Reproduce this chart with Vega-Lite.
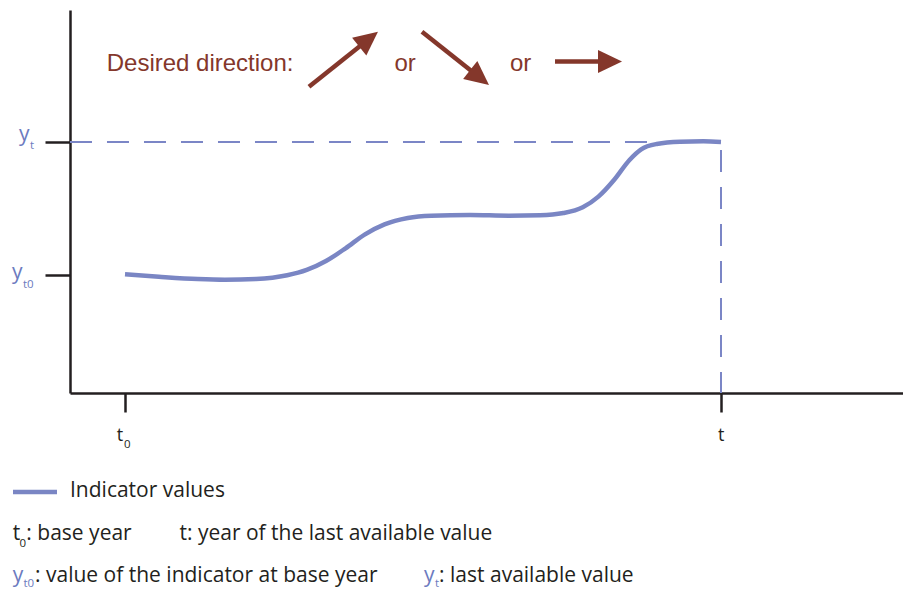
{
  "$schema": "https://vega.github.io/schema/vega-lite/v6.json",
  "width": 833,
  "height": 383,
  "autosize": {"type": "none"},
  "padding": {"left": 70, "top": 10, "right": 0, "bottom": 198},
  "background": "white",
  "config": {"view": {"stroke": null}},
  "datasets": {
    "curve": [
      {"x": 0, "y": 0.05}, {"x": 0.569, "y": -0.13}, {"x": 1.221, "y": -0.3}, {"x": 1.678, "y": -0.35},
      {"x": 2.198, "y": -0.3}, {"x": 2.721, "y": -0.02}, {"x": 3.049, "y": 0.38}, {"x": 3.372, "y": 1.05},
      {"x": 3.701, "y": 2.01}, {"x": 4.027, "y": 3.06}, {"x": 4.354, "y": 3.81}, {"x": 4.745, "y": 4.29},
      {"x": 5.138, "y": 4.46}, {"x": 5.789, "y": 4.51}, {"x": 6.441, "y": 4.46}, {"x": 6.963, "y": 4.49},
      {"x": 7.356, "y": 4.66}, {"x": 7.681, "y": 5.09}, {"x": 7.943, "y": 5.89}, {"x": 8.205, "y": 7.14},
      {"x": 8.465, "y": 8.65}, {"x": 8.661, "y": 9.45}, {"x": 8.921, "y": 9.85}, {"x": 9.312, "y": 10.02},
      {"x": 9.705, "y": 10.05}, {"x": 10, "y": 10.0}
    ],
    "hguide": [{"x": -0.923, "y": 10, "x2": 10, "y2": 10}],
    "vguide": [{"x": 10, "y": 10, "x2": 10, "y2": -8.872}],
    "shafts": [
      {"x": 3.087, "y": 14.158, "x2": 4.087, "y2": 17.729},
      {"x": 4.983, "y": 18.293, "x2": 5.95, "y2": 14.85},
      {"x": 7.215, "y": 16.053, "x2": 8.138, "y2": 16.053}
    ],
    "heads": [
      {"x": 4.087, "y": 17.729, "angle": 51.4},
      {"x": 5.95, "y": 14.85, "angle": 128.5},
      {"x": 8.138, "y": 16.053, "angle": 90}
    ],
    "direction": [
      {"text": "Desired direction:", "x": -0.307, "y": 15.338},
      {"text": "or", "x": 4.52, "y": 15.338},
      {"text": "or", "x": 6.46, "y": 15.338}
    ],
    "ylabels": [
      {"text": "y", "x": -1.779, "y": 10.105},
      {"text": "y", "x": -1.896, "y": -0.271}
    ],
    "xlabels": [
      {"text": "t", "x": -0.139, "y": -12.481},
      {"text": "t", "x": 9.95, "y": -12.481}
    ],
    "legendline": [{"x": -1.879, "y": -16.316, "x2": -1.141, "y2": -16.316}],
    "notes": [
      {"text": "Indicator values", "kind": "note", "x": -0.923, "y": -16.692},
      {"text": "t", "kind": "note", "x": -1.884, "y": -19.925},
      {"text": ": base year", "kind": "note", "x": -1.655, "y": -19.925},
      {"text": "t: year of the last available value", "kind": "note", "x": 0.914, "y": -19.925},
      {"text": "y", "kind": "symbol", "x": -1.884, "y": -23.083},
      {"text": ": value of the indicator at base year", "kind": "note", "x": -1.51, "y": -23.083},
      {"text": "y", "kind": "symbol", "x": 5.017, "y": -23.083},
      {"text": ": last available value", "kind": "note", "x": 5.27, "y": -23.083}
    ],
    "subs": [
      {"text": "t", "kind": "symbol", "x": -1.594, "y": 9.474},
      {"text": "t0", "kind": "symbol", "x": -1.711, "y": -0.977},
      {"text": "0", "kind": "note", "x": -0.017, "y": -13.008},
      {"text": "0", "kind": "note", "x": -1.77, "y": -20.451},
      {"text": "t0", "kind": "symbol", "x": -1.704, "y": -23.459},
      {"text": "t", "kind": "symbol", "x": 5.2, "y": -23.459}
    ]
  },
  "encoding": {
    "x": {
      "field": "x", "type": "quantitative",
      "scale": {"domain": [-0.9228, 13.0537], "nice": false, "zero": false},
      "axis": {"values": [0, 10], "labels": false, "title": null, "grid": false, "tickSize": 19, "tickWidth": 2.5, "tickColor": "#231f20", "domainColor": "#231f20", "domainWidth": 2.5}
    },
    "y": {
      "field": "y", "type": "quantitative",
      "scale": {"domain": [-8.872, 19.925], "nice": false, "zero": false},
      "axis": {"values": [0, 10], "labels": false, "title": null, "grid": false, "tickSize": 25, "tickWidth": 2.5, "tickColor": "#231f20", "domainColor": "#231f20", "domainWidth": 2.5}
    }
  },
  "layer": [
    {
      "data": {"name": "hguide"},
      "mark": {"type": "rule", "color": "#7b86c6", "strokeWidth": 2, "strokeDash": [22, 15]},
      "encoding": {"x2": {"field": "x2"}, "y2": {"field": "y2"}}
    },
    {
      "data": {"name": "vguide"},
      "mark": {"type": "rule", "color": "#7b86c6", "strokeWidth": 2, "strokeDash": [22, 15], "strokeDashOffset": 29},
      "encoding": {"x2": {"field": "x2"}, "y2": {"field": "y2"}}
    },
    {
      "data": {"name": "curve"},
      "mark": {"type": "line", "color": "#7a86c4", "strokeWidth": 4.5, "interpolate": "monotone"},
      "encoding": {}
    },
    {
      "data": {"name": "shafts"},
      "mark": {"type": "rule", "color": "#84372b", "strokeWidth": 4.5},
      "encoding": {"x2": {"field": "x2"}, "y2": {"field": "y2"}}
    },
    {
      "data": {"name": "heads"},
      "mark": {"type": "point", "shape": "M0,-1L0.95,1L-0.95,1Z", "size": 576, "filled": true, "color": "#84372b", "opacity": 1, "strokeWidth": 0},
      "encoding": {"angle": {"field": "angle", "type": "quantitative", "scale": null}}
    },
    {
      "data": {"name": "direction"},
      "mark": {"type": "text", "font": "Liberation Sans", "fontSize": 24, "color": "#84372b", "align": "left", "baseline": "alphabetic"},
      "encoding": {"text": {"field": "text"}}
    },
    {
      "data": {"name": "ylabels"},
      "mark": {"type": "text", "font": "Open Sans", "fontSize": 21, "color": "#6c7bc0", "align": "left", "baseline": "alphabetic"},
      "encoding": {"text": {"field": "text"}}
    },
    {
      "data": {"name": "xlabels"},
      "mark": {"type": "text", "font": "Open Sans", "fontSize": 18, "color": "#231f20", "align": "left", "baseline": "alphabetic"},
      "encoding": {"text": {"field": "text"}}
    },
    {
      "data": {"name": "legendline"},
      "mark": {"type": "rule", "color": "#7a86c4", "strokeWidth": 4.5},
      "encoding": {"x2": {"field": "x2"}, "y2": {"field": "y2"}}
    },
    {
      "data": {"name": "notes"},
      "mark": {"type": "text", "font": "Open Sans", "fontSize": 21, "align": "left", "baseline": "alphabetic"},
      "encoding": {
        "text": {"field": "text"},
        "color": {"field": "kind", "type": "nominal", "scale": {"domain": ["symbol", "note"], "range": ["#6c7bc0", "#231f20"]}, "legend": null}
      }
    },
    {
      "data": {"name": "subs"},
      "mark": {"type": "text", "font": "Open Sans", "fontSize": 11.5, "align": "left", "baseline": "alphabetic"},
      "encoding": {
        "text": {"field": "text"},
        "color": {"field": "kind", "type": "nominal", "scale": {"domain": ["symbol", "note"], "range": ["#6c7bc0", "#231f20"]}, "legend": null}
      }
    }
  ]
}
